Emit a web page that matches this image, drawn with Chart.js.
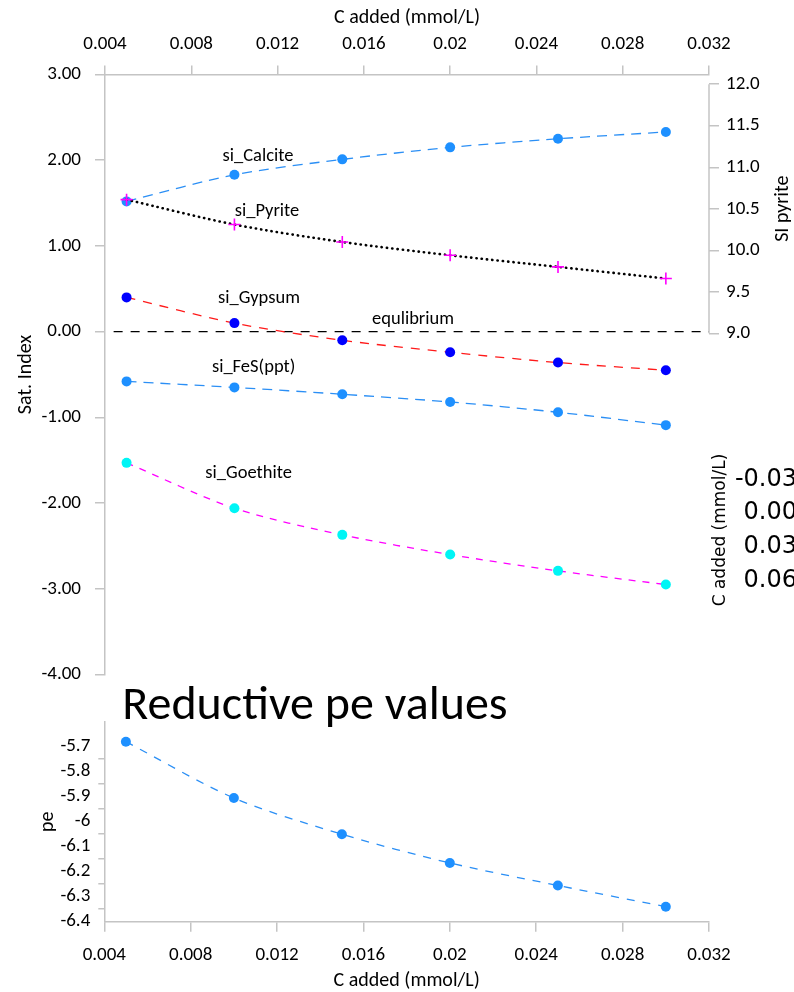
<!DOCTYPE html>
<html>
<head>
<meta charset="utf-8">
<script src="https://cdn.jsdelivr.net/npm/chart.js@4.4.1/dist/chart.umd.min.js"></script>
<style>
  html, body { margin: 0; padding: 0; background: #fff; overflow: hidden; }
  #page { position: relative; width: 794px; height: 992px; overflow: hidden; }
  canvas { position: absolute; }
  #siChart { left: 0; top: 0; }
  #peChart { left: 0; top: 680px; }
  #carbonAxis { left: 700px; top: 440px; }
</style>
</head>
<body>
<div id="page">
  <canvas id="siChart" width="794" height="700"></canvas>
  <canvas id="peChart" width="794" height="312"></canvas>
  <canvas id="carbonAxis" width="120" height="180"></canvas>
</div>
<script>
// C added (mmol/L) for each model step
const carbonAdded = [0.005, 0.010, 0.015, 0.020, 0.025, 0.030];

// saturation indices per mineral
const siCalcite = [1.52, 1.83, 2.01, 2.15, 2.25, 2.33];
const siPyrite = [10.61, 10.31, 10.10, 9.94, 9.80, 9.66];
const siGypsum = [0.40, 0.10, -0.10, -0.24, -0.36, -0.45];
const siFeS = [-0.58, -0.65, -0.73, -0.82, -0.94, -1.09];
const siGoethite = [-1.53, -2.06, -2.37, -2.60, -2.79, -2.95];

// pe at each step
const peValues = [-5.68, -5.905, -6.05, -6.165, -6.255, -6.34];

// SI = 0 reference line
const equilibriumX = [0.0044, 0.032];
const equilibriumY = [0, 0];

// axis ticks
const carbonTicks = [0.004, 0.008, 0.012, 0.016, 0.02, 0.024, 0.028, 0.032];
const satIndexTicks = [-4, -3, -2, -1, 0, 1, 2, 3];
const pyriteTicks = [9, 9.5, 10, 10.5, 11, 11.5, 12];
const peTicks = [-6.4, -6.3, -6.2, -6.1, -6, -5.9, -5.8, -5.7];
const peTickMarks = [-6.35, -6.25, -6.15, -6.05, -5.95, -5.85, -5.75];
const strayCarbonTicks = [-0.03, 0, 0.03, 0.06];

const FONT = "Carlito, Lato, sans-serif";
const AXIS_GRAY = "#c4c4c4";
const TEXT = "#000000";
const TICK_SIZE = 19;
const TITLE_SIZE = 20;

const seriesLabels = [
    { text: "si_Calcite", x: 0.01109, y: 2.05 },
    { text: "si_Pyrite", x: 0.01151, y: 1.40 },
    { text: "si_Gypsum", x: 0.01114, y: 0.394 },
    { text: "equlibrium", x: 0.01828, y: 0.143 },
    { text: "si_FeS(ppt)", x: 0.01089, y: -0.415 },
    { text: "si_Goethite", x: 0.01066, y: -1.649 }
];

Chart.defaults.font.family = FONT;
Chart.defaults.color = TEXT;

function pairs(xs, ys) {
    return xs.map((x, i) => ({ x, y: ys[i] }));
}

function fixTicks(values) {
    return (scale) => {
        scale.ticks = values.map((value) => ({ value }));
    };
}

function carbonLabel(value) {
    return String(+value.toFixed(3));
}

function series(label, values, lineColor, pointColor, dash, extra) {
    return Object.assign({
        label,
        data: pairs(carbonAdded, values),
        borderColor: lineColor,
        borderWidth: 1.3,
        borderDash: dash,
        backgroundColor: pointColor,
        pointBackgroundColor: pointColor,
        pointBorderColor: pointColor,
        pointBorderWidth: 0,
        pointRadius: 5,
        tension: 0.3,
        fill: false
    }, extra || {});
}

// labels next to the curves, the short right-hand axis and its rotated title
const siAnnotations = {
    id: "siAnnotations",
    afterDraw(chart) {
        const { ctx, scales: { x, y, y2 } } = chart;
        const top = y2.getPixelForValue(12);
        const bottom = y2.getPixelForValue(9);
        ctx.save();
        ctx.strokeStyle = AXIS_GRAY;
        ctx.lineWidth = 1.5;
        ctx.beginPath();
        ctx.moveTo(y2.left, top);
        ctx.lineTo(y2.left, bottom);
        ctx.stroke();

        ctx.fillStyle = TEXT;
        ctx.font = "18.5px " + FONT;
        ctx.textAlign = "center";
        ctx.textBaseline = "middle";
        seriesLabels.forEach((item) => {
            ctx.fillText(item.text, x.getPixelForValue(item.x), y.getPixelForValue(item.y));
        });

        ctx.font = TITLE_SIZE + "px " + FONT;
        ctx.translate(y2.left + 74, (top + bottom) / 2);
        ctx.rotate(-Math.PI / 2);
        ctx.fillText("SI pyrite", 0, 0);
        ctx.restore();
    }
};

new Chart(document.getElementById("siChart"), {
    type: "line",
    data: {
        datasets: [
            series("si_Pyrite", siPyrite, "#000000", "#ff00ff", [0.3, 5], {
                yAxisID: "y2",
                borderWidth: 2.6,
                borderCapStyle: "round",
                pointStyle: "cross",
                pointRadius: 6,
                pointBorderWidth: 1.6,
                order: 0
            }),
            series("si_Calcite", siCalcite, "#2b8ff5", "#1e90ff", [10, 7], { order: 1 }),
            series("si_Gypsum", siGypsum, "#ff1a1a", "#0000ff", [9, 8], { order: 2 }),
            series("si_FeS(ppt)", siFeS, "#2b8ff5", "#1e90ff", [10, 7], { order: 3 }),
            series("si_Goethite", siGoethite, "#ff00ff", "#00f5f5", [7, 7], { order: 4 }),
            {
                label: "equilibrium",
                data: pairs(equilibriumX, equilibriumY),
                borderColor: "#000000",
                borderWidth: 1.2,
                borderDash: [9, 8],
                pointRadius: 0,
                tension: 0,
                order: 5
            }
        ]
    },
    options: {
        responsive: false,
        animation: false,
        events: [],
        clip: false,
        layout: { padding: { top: 0, left: 0, right: 0, bottom: 20 } },
        plugins: { legend: { display: false }, tooltip: { enabled: false } },
        scales: {
            x: {
                type: "linear",
                position: "top",
                min: 0.004,
                max: 0.032,
                afterBuildTicks: fixTicks(carbonTicks),
                afterFit: (scale) => { scale.height = 74.5; },
                grid: { drawOnChartArea: false, color: AXIS_GRAY, tickLength: 9, lineWidth: 1.5 },
                border: { color: AXIS_GRAY, width: 1.5 },
                ticks: { callback: carbonLabel, padding: 10, maxRotation: 0, autoSkip: false, font: { size: TICK_SIZE }, color: TEXT },
                title: { display: true, text: "C added (mmol/L)", font: { size: TITLE_SIZE }, padding: { top: 6, bottom: 0 }, color: TEXT }
            },
            y: {
                position: "left",
                min: -4,
                max: 3,
                afterBuildTicks: fixTicks(satIndexTicks),
                afterFit: (scale) => { scale.width = 105; },
                grid: { drawOnChartArea: false, color: AXIS_GRAY, tickLength: 10, lineWidth: 1.5 },
                border: { color: AXIS_GRAY, width: 1.5 },
                ticks: { callback: (v) => v.toFixed(2), padding: 14, font: { size: TICK_SIZE }, color: TEXT },
                title: { display: true, text: "Sat. Index", font: { size: TITLE_SIZE }, padding: { top: 14, bottom: 0 }, color: TEXT }
            },
            y2: {
                position: "right",
                min: 4.89,
                max: 12.117,
                afterBuildTicks: fixTicks(pyriteTicks),
                afterFit: (scale) => { scale.width = 85; },
                grid: { drawOnChartArea: false, color: AXIS_GRAY, tickLength: 10, lineWidth: 1.5 },
                border: { display: false },
                ticks: { callback: (v) => v.toFixed(1), padding: 7, font: { size: TICK_SIZE }, color: TEXT }
            }
        }
    },
    plugins: [siAnnotations]
});

// title above the pe panel
const peTitle = {
    id: "peTitle",
    afterDraw(chart) {
        const { ctx, chartArea } = chart;
        ctx.save();
        ctx.fillStyle = TEXT;
        ctx.font = "48px " + FONT;
        ctx.textAlign = "left";
        ctx.textBaseline = "alphabetic";
        ctx.fillText("Reductive pe values", chartArea.left + 18, 39);
        ctx.restore();
    }
};

new Chart(document.getElementById("peChart"), {
    type: "line",
    data: {
        datasets: [
            series("pe", peValues, "#2b8ff5", "#1e90ff", [8, 8])
        ]
    },
    options: {
        responsive: false,
        animation: false,
        events: [],
        clip: false,
        layout: { padding: { top: 41.7, left: 0, right: 85, bottom: 0 } },
        plugins: { legend: { display: false }, tooltip: { enabled: false } },
        scales: {
            x: {
                type: "linear",
                position: "bottom",
                min: 0.004,
                max: 0.032,
                afterBuildTicks: fixTicks(carbonTicks),
                afterFit: (scale) => { scale.height = 70.3; },
                grid: { drawOnChartArea: false, color: AXIS_GRAY, tickLength: 10, lineWidth: 1.5 },
                border: { color: AXIS_GRAY, width: 1.5 },
                ticks: { callback: carbonLabel, padding: 12, maxRotation: 0, autoSkip: false, font: { size: TICK_SIZE }, color: TEXT },
                title: { display: true, text: "C added (mmol/L)", font: { size: TITLE_SIZE }, padding: { top: 0, bottom: -1 }, color: TEXT }
            },
            y: {
                position: "left",
                min: -6.4,
                max: -5.6,
                afterBuildTicks: fixTicks([...peTicks, ...peTickMarks].sort((a, b) => a - b)),
                afterFit: (scale) => { scale.width = 104.3; },
                grid: {
                    drawOnChartArea: false,
                    lineWidth: 1.5,
                    tickLength: 6,
                    color: (ctx) => (ctx.tick && peTickMarks.includes(ctx.tick.value) ? AXIS_GRAY : "rgba(0,0,0,0)")
                },
                border: { color: AXIS_GRAY, width: 1.5 },
                ticks: {
                    autoSkip: false,
                    callback: (v) => (peTicks.includes(v) ? String(v) : ""),
                    padding: 8,
                    font: { size: TICK_SIZE },
                    color: TEXT
                },
                title: { display: true, text: "pe", font: { size: TITLE_SIZE }, padding: { top: 36, bottom: 0 }, color: TEXT }
            }
        }
    },
    plugins: [peTitle]
});

// lone C added axis at the right edge
new Chart(document.getElementById("carbonAxis"), {
    type: "line",
    data: { datasets: [] },
    options: {
        responsive: false,
        animation: false,
        events: [],
        layout: { padding: { top: 15, bottom: 18.3, left: 0, right: 0 } },
        plugins: { legend: { display: false }, tooltip: { enabled: false } },
        scales: {
            x: { type: "linear", display: false },
            y: {
                position: "left",
                reverse: true,
                min: -0.045,
                max: 0.075,
                afterBuildTicks: fixTicks(strayCarbonTicks),
                afterFit: (scale) => { scale.width = 113; },
                grid: { display: false },
                border: { display: false },
                ticks: {
                    callback: (v) => v.toFixed(2),
                    padding: 8,
                    font: { family: "DejaVu Sans", size: 24 },
                    color: TEXT
                },
                title: {
                    display: true,
                    text: "C added (mmol/L)",
                    font: { family: "DejaVu Sans", size: 17 },
                    padding: { top: 10, bottom: 0 },
                    color: TEXT
                }
            }
        }
    }
});
</script>
</body>
</html>
